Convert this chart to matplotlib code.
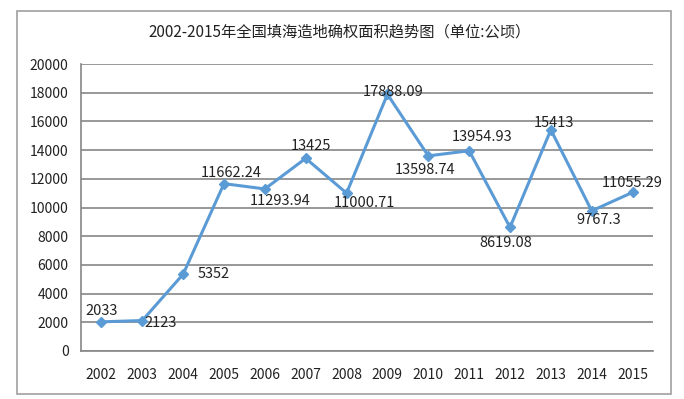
import matplotlib.pyplot as plt
from matplotlib.patches import Rectangle

plt.rcParams['font.family'] = ['Noto Sans CJK SC', 'DejaVu Sans']

years = ['2002', '2003', '2004', '2005', '2006', '2007', '2008',
         '2009', '2010', '2011', '2012', '2013', '2014', '2015']
area = [2033, 2123, 5352, 11662.24, 11293.94, 13425, 11000.71,
        17888.09, 13598.74, 13954.93, 8619.08, 15413, 9767.3, 11055.29]
labels = ['2033', '2123', '5352', '11662.24', '11293.94', '13425', '11000.71',
          '17888.09', '13598.74', '13954.93', '8619.08', '15413', '9767.3', '11055.29']
# label offsets in points (dx, dy)
offsets = [(0, 8), (13, -2), (22, 0), (5, 8), (11, -9), (4, 9), (13, -7),
           (4, 2), (-2, -10), (9, 10), (-3, -11), (2, 5), (5, -6.5), (0, 7)]

fig = plt.figure(figsize=(6.84, 3.99), dpi=100)
fig.patches.append(Rectangle((17 / 684, 1 - 394 / 399), 654 / 684, 383 / 399,
                             transform=fig.transFigure, fill=False,
                             edgecolor='#a0a0a0', linewidth=1.2))
ax = fig.add_axes([81 / 684, 1 - 351 / 399, 572 / 684, 287 / 399])

x = list(range(len(years)))
ax.plot(x, area, color='#5b9bd5', linewidth=2.2, marker='D', markersize=5,
        zorder=3)
for xi, yi, lab, (dx, dy) in zip(x, area, labels, offsets):
    ax.annotate(lab, (xi, yi), xytext=(dx, dy), textcoords='offset points',
                ha='center', va='center', fontsize=10.5, color='#222222',
                zorder=4)

ax.set_xlim(-0.5, len(years) - 0.5)
ax.set_ylim(0, 20000)
ax.set_yticks(range(0, 20001, 2000))
ax.set_xticks(x)
ax.set_xticklabels(years)
ax.tick_params(axis='both', length=0, labelsize=10, colors='#222222')
ax.tick_params(axis='x', pad=12)
ax.tick_params(axis='y', pad=9)
ax.grid(axis='y', color='#868686', linewidth=1.2)
ax.set_axisbelow(True)
for side in ['top', 'right']:
    ax.spines[side].set_visible(False)
ax.spines['left'].set_color('#868686')
ax.spines['bottom'].set_color('#868686')
ax.spines['left'].set_linewidth(1.2)
ax.spines['bottom'].set_linewidth(1.2)

fig.text(340 / 684, 1 - 32 / 399, '2002-2015年全国填海造地确权面积趋势图（单位:公顷）',
         ha='center', va='center', fontsize=11, color='#222222')

fig.savefig('out.png', dpi=100)
